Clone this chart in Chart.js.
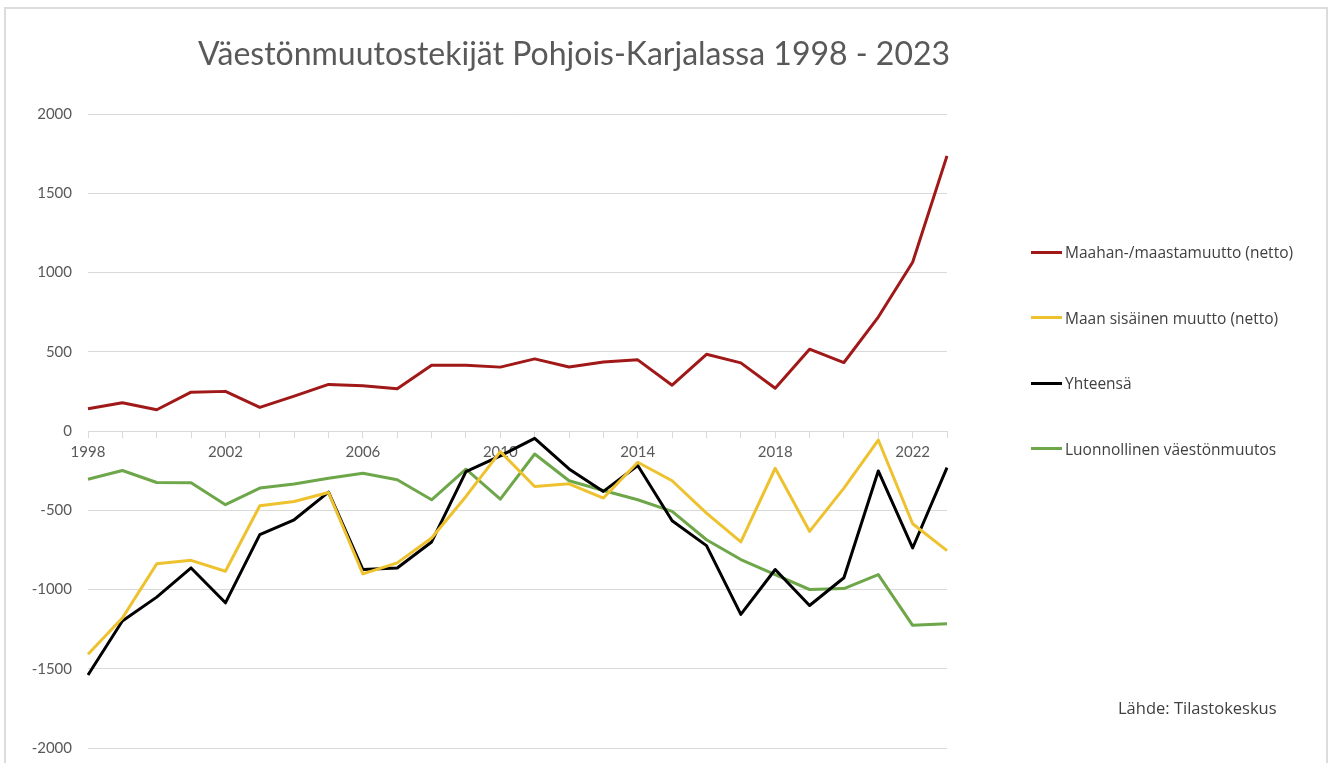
<!DOCTYPE html>
<html lang="fi">
<head>
<meta charset="utf-8">
<title>Väestönmuutostekijät Pohjois-Karjalassa 1998 - 2023</title>
<script src="https://cdn.jsdelivr.net/npm/chart.js@4.4.1/dist/chart.umd.min.js"></script>
<style>
  html, body { margin: 0; padding: 0; background: #fff; }
  #wrap { position: relative; width: 1333px; height: 763px; overflow: hidden; }
  #frame {
    position: absolute; left: 4px; top: 7px; width: 1324px; height: 820px;
    border: 2px solid #dcdcdc; box-sizing: border-box;
  }
  #kuva { position: absolute; left: 0; top: 0; }
  #otsikko {
    position: absolute; left: 124px; width: 900px; top: 37px; margin: 0;
    text-align: center; font: 400 32px/32px Lato, sans-serif; color: #595959;
    white-space: nowrap;
  }
  #selite { position: absolute; left: 1031px; top: 0; }
  .rivi {
    position: absolute; left: 0; height: 20px; display: flex; align-items: center;
    font: 15.5px "Open Sans", sans-serif; color: #404040; white-space: nowrap;
  }
  .rivi i { display: inline-block; width: 31px; height: 3px; margin-right: 3px; }
  #lahde {
    position: absolute; left: 1118px; top: 696px;
    font: 16.5px "Open Sans", sans-serif; color: #404040; white-space: nowrap;
  }
</style>
</head>
<body>
<div id="wrap">
  <div id="frame"></div>
  <canvas id="kuva" width="1333" height="763"></canvas>
  <h1 id="otsikko">Väestönmuutostekijät Pohjois-Karjalassa 1998 - 2023</h1>
  <div id="selite"></div>
  <div id="lahde">Lähde: Tilastokeskus</div>
</div>
<script>
// vuodet ja väestönmuutoksen osatekijät (henkeä)
const vuodet = ['1998', '1999', '2000', '2001', '2002', '2003', '2004', '2005', '2006',
  '2007', '2008', '2009', '2010', '2011', '2012', '2013', '2014', '2015', '2016',
  '2017', '2018', '2019', '2020', '2021', '2022', '2023'];

const maahanmuutto = [140, 178, 134, 245, 250, 149, 220, 294, 285, 266, 415, 415, 403,
  455, 404, 436, 449, 289, 484, 430, 270, 516, 432, 719, 1065, 1736];

const sisainenMuutto = [-1409, -1180, -838, -816, -885, -472, -445, -388, -901, -832,
  -675, -413, -130, -350, -333, -423, -197, -314, -518, -700, -235, -633, -360, -57,
  -585, -755];

const yhteensa = [-1539, -1199, -1048, -864, -1084, -654, -560, -386, -874, -864, -700,
  -256, -157, -46, -239, -381, -218, -566, -723, -1157, -874, -1101, -926, -252, -738,
  -231];

const luonnollinen = [-304, -249, -325, -327, -465, -360, -335, -298, -266, -308, -434,
  -241, -430, -145, -314, -375, -434, -507, -686, -811, -906, -1000, -994, -906, -1226,
  -1216];

const sarjat = [
  { nimi: 'Maahan-/maastamuutto (netto)', arvot: maahanmuutto, vari: '#a11818' },
  { nimi: 'Maan sisäinen muutto (netto)', arvot: sisainenMuutto, vari: '#eec22f' },
  { nimi: 'Yhteensä', arvot: yhteensa, vari: '#000000' },
  { nimi: 'Luonnollinen väestönmuutos', arvot: luonnollinen, vari: '#6ea64a' }
];

const tekstinVari = '#595959';
const viivanVari = '#d9d9d9';

const kaavio = new Chart(document.getElementById('kuva'), {
  type: 'line',
  data: {
    labels: vuodet,
    datasets: sarjat.map(s => ({
      label: s.nimi,
      data: s.arvot,
      borderColor: s.vari,
      backgroundColor: s.vari,
      borderWidth: 3,
      borderJoinStyle: 'round',
      pointRadius: 0,
      tension: 0
    }))
  },
  options: {
    responsive: false,
    animation: false,
    layout: { padding: { left: 0, top: 114, right: 386, bottom: 15 } },
    scales: {
      x: {
        position: { y: 0 },
        offset: false,
        grid: { drawOnChartArea: false, color: viivanVari, tickLength: 6 },
        border: { color: viivanVari },
        ticks: {
          autoSkip: false,
          maxRotation: 0,
          padding: 6,
          color: tekstinVari,
          font: { family: 'Lato', size: 15 },
          callback: function (arvo, i) {
            return i % 4 === 0 ? this.getLabelForValue(arvo) : '';
          }
        }
      },
      y: {
        min: -2000,
        max: 2000,
        // näkymätön tikkiviiva antaa välin numeroiden ja ruudukon väliin
        grid: { color: viivanVari, tickColor: 'rgba(0,0,0,0)', tickLength: 14 },
        border: { display: false },
        ticks: {
          stepSize: 500,
          padding: 2,
          color: tekstinVari,
          font: { family: 'Lato', size: 15 },
          callback: arvo => String(arvo)
        },
        afterFit: s => { s.width = 88; }
      }
    },
    plugins: {
      legend: { display: false },
      title: { display: false },
      tooltip: { enabled: false }
    }
  }
});

// selite kaavion oikealle puolelle
const selite = document.getElementById('selite');
kaavio.data.datasets.forEach((ds, i) => {
  const rivi = document.createElement('div');
  rivi.className = 'rivi';
  rivi.style.top = (242 + i * 65.6) + 'px';
  const viiva = document.createElement('i');
  viiva.style.background = ds.borderColor;
  rivi.appendChild(viiva);
  rivi.appendChild(document.createTextNode(ds.label));
  selite.appendChild(rivi);
});
</script>
</body>
</html>
